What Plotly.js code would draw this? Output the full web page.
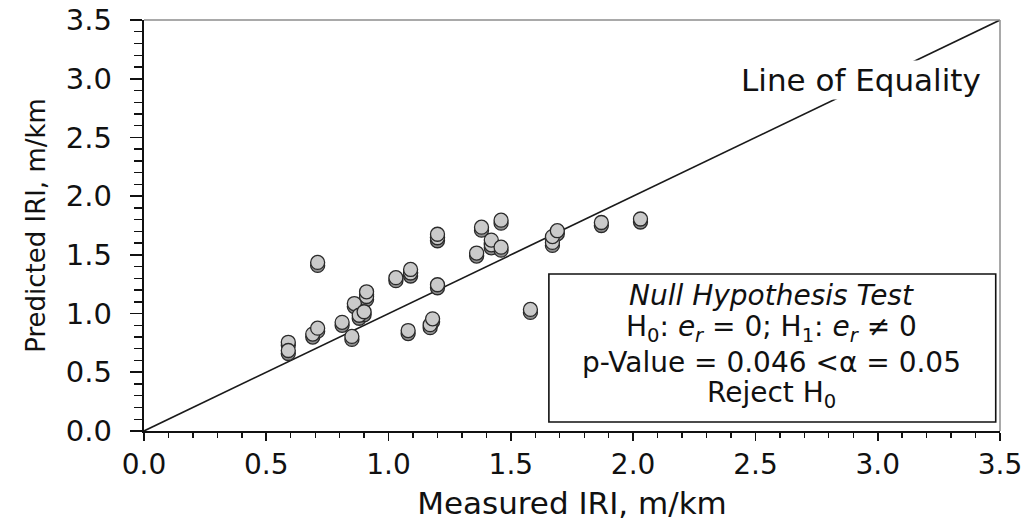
<!DOCTYPE html>
<html>
<head>
<meta charset="utf-8">
<script src="https://cdn.plot.ly/plotly-3.0.1.min.js"></script>
<style>
  html, body { margin: 0; padding: 0; background: #ffffff; }
  #chart { width: 1028px; height: 521px; }
</style>
</head>
<body>
<div id="chart"></div>
<script>
// Measured vs predicted IRI (m/km)
const measuredIRI = [0.59, 0.59, 0.69, 0.71, 0.71, 0.81, 0.85, 0.86, 0.88, 0.90, 0.91, 0.91,
                     1.03, 1.09, 1.09, 1.08, 1.17, 1.18, 1.20, 1.20, 1.20, 1.36, 1.38, 1.42,
                     1.42, 1.46, 1.46, 1.67, 1.67, 1.69, 1.87, 2.03, 1.58];
const predictedIRI = [0.73, 0.66, 0.80, 0.85, 1.41, 0.90, 0.78, 1.06, 0.96, 0.99, 1.12, 1.16,
                      1.28, 1.32, 1.35, 0.83, 0.88, 0.93, 1.62, 1.65, 1.22, 1.49, 1.71, 1.56,
                      1.60, 1.54, 1.77, 1.58, 1.63, 1.68, 1.75, 1.78, 1.01];
// Line of equality end points
const equalityX = [0, 3.5];
const equalityY = [0, 3.5];
const axisRange = [0, 3.5];
// Y-axis tick values and labels
const yTickValues = [0, 0.5, 1.0, 1.5, 2.0, 2.5, 3.0, 3.5];
const yTickLabels = ['0.0', '0.5', '1.0', '1.5', '2.0', '2.5', '3.0', '3.5'];
const xTitle = 'Measured IRI, m/km';
const yTitle = 'Predicted IRI, m/km';
const equalityLabel = 'Line of Equality';
const testLines = [
  '<i>Null Hypothesis Test</i>',
  'H<sub>0</sub>: <i>e<sub>r</sub></i> = 0; H<sub>1</sub>: <i>e<sub>r</sub></i> ≠ 0',
  'p-Value = 0.046 &lt;α = 0.05',
  'Reject H<sub>0</sub>'
];

const FONT = 'DejaVu Sans, Liberation Sans, Arial, sans-serif';
const pxPerUnit = 411 / 3.5;
const coinDepth = 3 / pxPerUnit;
// invisible trailing pad to keep the y labels a little away from the ticks
const labelPad = '<span style="font-size:20px;color:rgba(255,255,255,0)">0</span>';

const traces = [
  {
    x: equalityX, y: equalityY, type: 'scatter', mode: 'lines',
    line: { color: '#1a1a1a', width: 1.6 }, hoverinfo: 'skip', showlegend: false
  },
  // coin rim (underneath)
  {
    x: measuredIRI, y: predictedIRI, type: 'scatter', mode: 'markers',
    marker: { symbol: 'circle', size: 14, color: '#8f8f8f', line: { color: '#2a2a2a', width: 1.3 } },
    hoverinfo: 'skip', showlegend: false
  },
  // coin face (on top, lifted a few pixels)
  {
    x: measuredIRI, y: predictedIRI, type: 'scatter', mode: 'markers', yaxis: 'y2',
    marker: { symbol: 'circle', size: 14, color: '#cacaca', line: { color: '#2a2a2a', width: 1.3 } },
    hoverinfo: 'skip', showlegend: false
  }
];

const boxCenterX = 0.7336;
const lineYs = [0.330, 0.250, 0.166, 0.090];
const annotations = [
  {
    x: 2.93, y: 2.985, xref: 'x', yref: 'y', text: equalityLabel, showarrow: false,
    font: { family: FONT, size: 31, color: '#111' }, bgcolor: '#ffffff', borderpad: 1,
    xanchor: 'center', yanchor: 'middle'
  }
].concat(testLines.map((t, i) => ({
  x: boxCenterX, y: lineYs[i], xref: 'paper', yref: 'paper', text: t, showarrow: false,
  font: { family: FONT, size: 28, color: '#111' }, xanchor: 'center', yanchor: 'middle', borderpad: 0
})));

const layout = {
  width: 1028, height: 521,
  margin: { l: 144, r: 28, t: 20, b: 90 },
  paper_bgcolor: '#ffffff', plot_bgcolor: '#ffffff',
  showlegend: false,
  xaxis: {
    range: axisRange, tick0: 0, dtick: 0.5, tickformat: '.1f',
    showgrid: false, zeroline: false,
    showline: true, linecolor: '#111', linewidth: 1.6,
    ticks: 'outside', ticklen: 8, tickwidth: 1.6, tickcolor: '#111',
    minor: { dtick: 0.1, ticks: 'outside', ticklen: 5, tickwidth: 1.4, tickcolor: '#111', showgrid: false },
    tickfont: { family: FONT, size: 28, color: '#111' },
    ticklabelstandoff: 0,
    title: { text: xTitle, font: { family: FONT, size: 31, color: '#111' }, standoff: 19 }
  },
  yaxis: {
    range: axisRange,
    tickmode: 'array', tickvals: yTickValues, ticktext: yTickLabels.map(t => t + labelPad),
    showgrid: false, zeroline: false,
    showline: true, linecolor: '#111', linewidth: 1.6,
    ticks: 'outside', ticklen: 12, tickwidth: 1.6, tickcolor: '#111',
    minor: { tickmode: 'linear', tick0: 0, dtick: 0.1, ticks: 'outside', ticklen: 8, tickwidth: 1.4, tickcolor: '#111', showgrid: false },
    tickfont: { family: FONT, size: 29, color: '#111' },
    title: { text: yTitle, font: { family: FONT, size: 26, color: '#111' }, standoff: 12 }
  },
  yaxis2: {
    overlaying: 'y', range: [axisRange[0] - coinDepth, axisRange[1] - coinDepth],
    visible: false, showgrid: false, zeroline: false
  },
  shapes: [
    { type: 'line', xref: 'paper', yref: 'paper', x0: 0, x1: 1, y0: 1, y1: 1, line: { color: '#8c8c8c', width: 1.5 } },
    { type: 'line', xref: 'paper', yref: 'paper', x0: 1, x1: 1, y0: 0, y1: 1, line: { color: '#8c8c8c', width: 1.5 } },
    { type: 'rect', xref: 'paper', yref: 'paper', x0: 0.473, x1: 0.995, y0: 0.022, y1: 0.382,
      fillcolor: '#ffffff', line: { color: '#111', width: 1.6 }, layer: 'above' }
  ],
  annotations: annotations
};

Plotly.newPlot('chart', traces, layout, { staticPlot: true, displayModeBar: false });
</script>
</body>
</html>
